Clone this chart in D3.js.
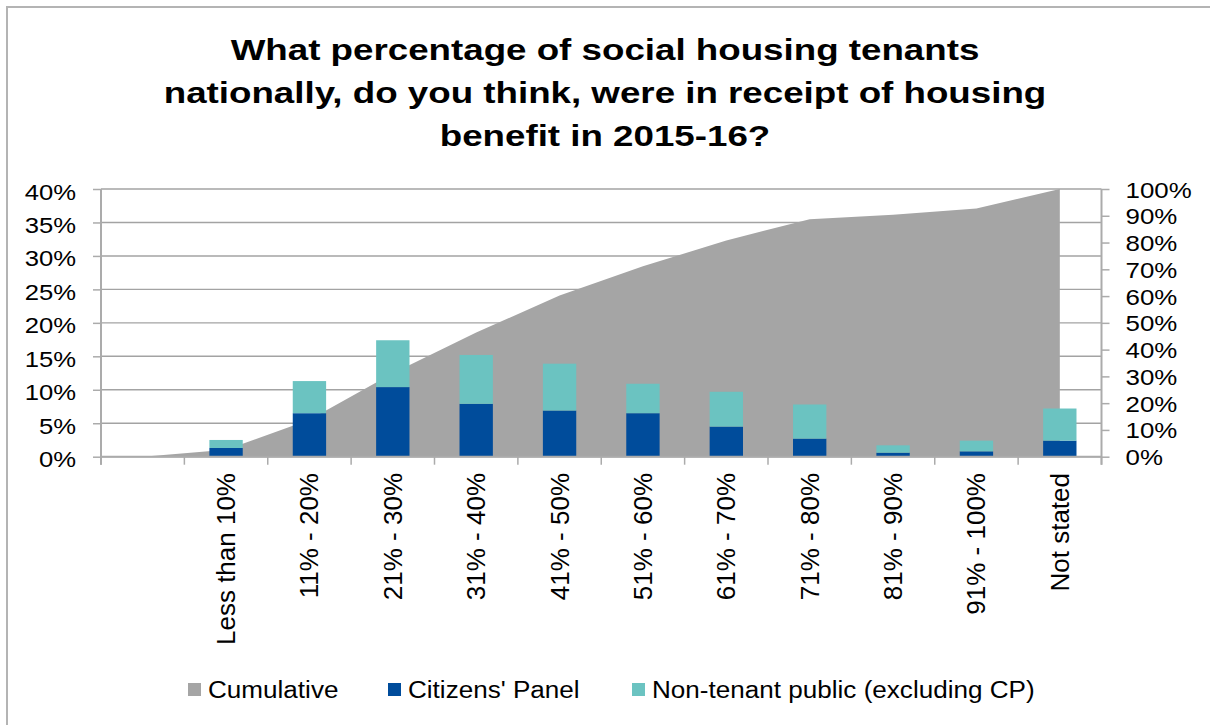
<!DOCTYPE html>
<html>
<head>
<meta charset="utf-8">
<script src="https://cdn.jsdelivr.net/npm/d3@7"></script>
<style>
  html, body { margin: 0; padding: 0; background: #fff; }
  svg { display: block; font-family: "Liberation Sans", Arial, sans-serif; }
</style>
</head>
<body>
<svg id="chart" width="1210" height="725"></svg>
<script>
// Answer bands (first slot is an empty lead-in for the cumulative area)
const categories = ["", "Less than 10%", "11% - 20%", "21% - 30%", "31% - 40%", "41% - 50%",
  "51% - 60%", "61% - 70%", "71% - 80%", "81% - 90%", "91% - 100%", "Not stated"];

// Stacked columns (left axis, % of respondents) for each non-empty band
const citizensPanel = [1.3, 6.5, 10.4, 7.9, 6.9, 6.5, 4.5, 2.7, 0.6, 0.8, 2.4];
const nonTenantPublic = [1.2, 4.8, 7.0, 7.3, 7.0, 4.4, 5.2, 5.1, 1.1, 1.6, 4.8];

// Cumulative share (right axis), one value per slot
const cumulative = [0, 2.6, 13.8, 31.2, 46.4, 60.2, 71.1, 80.8, 88.7, 90.4, 92.7, 100];

const leftTicks = [0, 5, 10, 15, 20, 25, 30, 35, 40];
const rightTicks = [0, 10, 20, 30, 40, 50, 60, 70, 80, 90, 100];

const titleLines = ["What percentage of social housing tenants",
  "nationally, do you think, were in receipt of housing",
  "benefit in 2015-16?"];

const legendItems = [
  { label: "Cumulative", color: "#a5a5a5" },
  { label: "Citizens' Panel", color: "#004c9b" },
  { label: "Non-tenant public (excluding CP)", color: "#6bc3c1" }
];

const svg = d3.select("#chart");

// outer chart frame
svg.append("rect")
  .attr("x", 7).attr("y", 7).attr("width", 1220).attr("height", 740)
  .attr("fill", "none").attr("stroke", "#b4b4b4").attr("stroke-width", 2);

const plot = { left: 101, right: 1101.5, top: 189, bottom: 456.7 };

const x = d3.scaleBand().domain(categories.map((c, i) => i))
  .range([plot.left, plot.right]).padding(0);
const yLeft = d3.scaleLinear().domain([0, 40]).range([plot.bottom, plot.top]);
const yRight = d3.scaleLinear().domain([0, 100]).range([plot.bottom, plot.top]);
const cx = i => x(i) + x.bandwidth() / 2;

// title
const title = svg.append("g");
titleLines.forEach((t, i) => {
  title.append("text")
    .attr("transform", `translate(605,${59.5 + i * 43.4}) scale(1.245,1)`)
    .attr("text-anchor", "middle")
    .attr("font-weight", "bold")
    .attr("font-size", 29.5)
    .attr("fill", "#000")
    .text(t);
});

// horizontal gridlines
svg.append("g").selectAll("line").data(leftTicks).join("line")
  .attr("x1", plot.left).attr("x2", plot.right)
  .attr("y1", d => yLeft(d)).attr("y2", d => yLeft(d))
  .attr("stroke", "#a3a3a3").attr("stroke-width", 1.4);

// cumulative area
const area = d3.area()
  .x((d, i) => cx(i))
  .y0(yRight(0))
  .y1(d => yRight(d));
svg.append("path").datum(cumulative)
  .attr("d", area)
  .attr("fill", "#a5a5a5");

// stacked columns
const barW = x.bandwidth() * 0.4;
const bars = svg.append("g");
citizensPanel.forEach((v, j) => {
  const i = j + 1;
  const nt = nonTenantPublic[j];
  bars.append("rect")
    .attr("x", cx(i) - barW / 2).attr("width", barW)
    .attr("y", yLeft(v)).attr("height", yLeft(0) - yLeft(v))
    .attr("fill", "#004c9b");
  bars.append("rect")
    .attr("x", cx(i) - barW / 2).attr("width", barW)
    .attr("y", yLeft(v + nt)).attr("height", yLeft(v) - yLeft(v + nt))
    .attr("fill", "#6bc3c1");
});

// axes
const axisColor = "#ababab";
const leftAxis = svg.append("g").attr("transform", `translate(${plot.left},0)`)
  .call(d3.axisLeft(yLeft).tickValues(leftTicks).tickSize(8).tickFormat(d => d + "%"));
const rightAxis = svg.append("g").attr("transform", `translate(${plot.right},0)`)
  .call(d3.axisRight(yRight).tickValues(rightTicks).tickSize(8).tickFormat(d => d + "%"));
const bottomAxis = svg.append("g").attr("transform", `translate(0,${plot.bottom})`)
  .call(d3.axisBottom(x).tickValues(d3.range(categories.length + 1)).tickSize(8).tickFormat(""));

[leftAxis, rightAxis, bottomAxis].forEach(g => {
  g.select(".domain").remove();
  g.selectAll(".tick line").attr("stroke", axisColor).attr("stroke-width", 1.5);
});
// bottom ticks sit on band edges
bottomAxis.selectAll(".tick").remove();
bottomAxis.selectAll("line.edge").data(d3.range(categories.length + 1)).join("line")
  .attr("class", "edge")
  .attr("x1", i => plot.left + i * x.bandwidth()).attr("x2", i => plot.left + i * x.bandwidth())
  .attr("y1", 0).attr("y2", 8)
  .attr("stroke", axisColor).attr("stroke-width", 1.5);

// axis lines
svg.append("line").attr("x1", plot.left).attr("x2", plot.left)
  .attr("y1", plot.top).attr("y2", plot.bottom + 8)
  .attr("stroke", axisColor).attr("stroke-width", 2);
svg.append("line").attr("x1", plot.right).attr("x2", plot.right)
  .attr("y1", plot.top).attr("y2", plot.bottom + 8)
  .attr("stroke", axisColor).attr("stroke-width", 2);
svg.append("line").attr("x1", plot.left).attr("x2", plot.right)
  .attr("y1", plot.bottom).attr("y2", plot.bottom)
  .attr("stroke", axisColor).attr("stroke-width", 2);

// tick label styling (stretched to the wide Excel glyph metrics)
leftAxis.selectAll(".tick text")
  .attr("x", null).attr("dy", null)
  .attr("transform", "translate(-25,10) scale(1.14,1)")
  .attr("text-anchor", "end")
  .attr("font-size", 22.5).attr("fill", "#000")
  .attr("font-family", "Liberation Sans, Arial, sans-serif");
rightAxis.selectAll(".tick text")
  .attr("x", null).attr("dy", null)
  .attr("transform", "translate(24,8) scale(1.15,1)")
  .attr("text-anchor", "start")
  .attr("font-size", 22.5).attr("fill", "#000")
  .attr("font-family", "Liberation Sans, Arial, sans-serif");

// rotated category labels
svg.append("g").selectAll("text").data(categories.slice(1)).join("text")
  .attr("transform", (d, j) => `translate(${cx(j + 1) + 9},473) rotate(-90)`)
  .attr("text-anchor", "end")
  .attr("font-size", 26)
  .attr("fill", "#000")
  .text(d => d);

// legend
const legendX = [188, 388, 632];
const legend = svg.append("g");
legendItems.forEach((item, i) => {
  legend.append("rect")
    .attr("x", legendX[i]).attr("y", 683)
    .attr("width", 13).attr("height", 13)
    .attr("fill", item.color);
  legend.append("text")
    .attr("transform", `translate(${legendX[i] + 20},698) scale(1.12,1)`)
    .attr("font-size", 23.3)
    .attr("fill", "#000")
    .text(item.label);
});
</script>
</body>
</html>
